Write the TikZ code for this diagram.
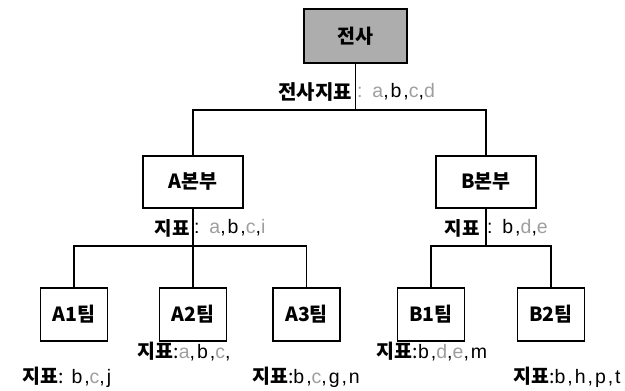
\documentclass[tikz,border=0pt]{standalone}
\usepackage{fontspec}
\setmainfont{Noto Sans CJK KR}
\newfontfamily\latfont[LetterSpace=10]{Liberation Sans}
\definecolor{fadeg}{gray}{0.62}
\definecolor{boxgray}{gray}{0.68}
\newcommand{\fd}[1]{\textcolor{fadeg}{#1}}
\begin{document}
\begin{tikzpicture}[x=1pt,y=-1pt,
  conn/.style={line width=1.4pt},
  orgbox/.style={draw, line width=1.4pt, inner sep=0pt, font=\fontsize{19.5}{21}\selectfont\bfseries},
  divbox/.style={orgbox, minimum width=100pt, minimum height=52pt},
  teambox/.style={orgbox, minimum width=67pt, minimum height=53pt},
  lbl/.style={inner sep=0pt, font=\fontsize{19.5}{21}\selectfont}
]
\useasboundingbox (0,0) rectangle (625,391);
% boxes
\node[orgbox, fill=boxgray, minimum width=103pt, minimum height=54pt] (top) at (355.5,36) {전사};
\node[divbox] (A) at (193,182) {A본부};
\node[divbox] (B) at (486,182) {B본부};
\node[teambox] (A1) at (74,314.5) {A1팀};
\node[teambox] (A2) at (193,314.5) {A2팀};
\node[teambox] (A3) at (306.5,314.5) {A3팀};
\node[teambox] (B1) at (431,314.5) {B1팀};
\node[teambox] (B2) at (551,314.5) {B2팀};
% junctions
\coordinate (j0) at (355.5,110);
\coordinate (jA) at (193,246);
\coordinate (jB) at (486,246);
% connectors
\draw[conn] (top.south) -- (j0);
\draw[conn] (A.north) |- (j0) -| (B.north);
\draw[conn] (A.south) -- (jA);
\draw[conn] (A1.north) |- (jA) -| (A3.north);
\draw[conn] (jA) -- (A2.north);
\draw[conn] (B.south) -- (jB);
\draw[conn] (B1.north) |- (jB) -| (B2.north);
% indicator labels at stems
\node[lbl, anchor=east, font=\fontsize{20}{22}\selectfont\bfseries] (tL) at (352,92) {전사지표};
\node[lbl, anchor=west] (tR) at (357,92) {\latfont\fd{: a},b,\fd{c},\fd{d}};
\node[lbl, anchor=east, font=\fontsize{19}{21}\selectfont\bfseries] (aL) at (190,228) {지표};
\node[lbl, anchor=west] (aR) at (194,228) {\latfont: \fd{a},b,\fd{c},\fd{i}};
\node[lbl, anchor=east, font=\fontsize{19}{21}\selectfont\bfseries] (bL) at (480,228) {지표};
\node[lbl, anchor=west] (bR) at (487,228) {\latfont: b,\fd{d},\fd{e}};
% team labels
\node[lbl] (lA1) at (67,377) {{\bfseries 지표}:{\latfont\ b,\fd{c},j}};
\node[lbl] (lA2) at (184,352) {{\bfseries 지표}:{\latfont \fd{a},b,\fd{c},}};
\node[lbl] (lA3) at (306,377) {{\bfseries 지표}:{\latfont b,\fd{c},g,n}};
\node[lbl] (lB1) at (432,352) {{\bfseries 지표}:{\latfont b,\fd{d},\fd{e},m}};
\node[lbl] (lB2) at (567,377) {{\bfseries 지표}:{\latfont b,h,p,t}};
\end{tikzpicture}
\end{document}
